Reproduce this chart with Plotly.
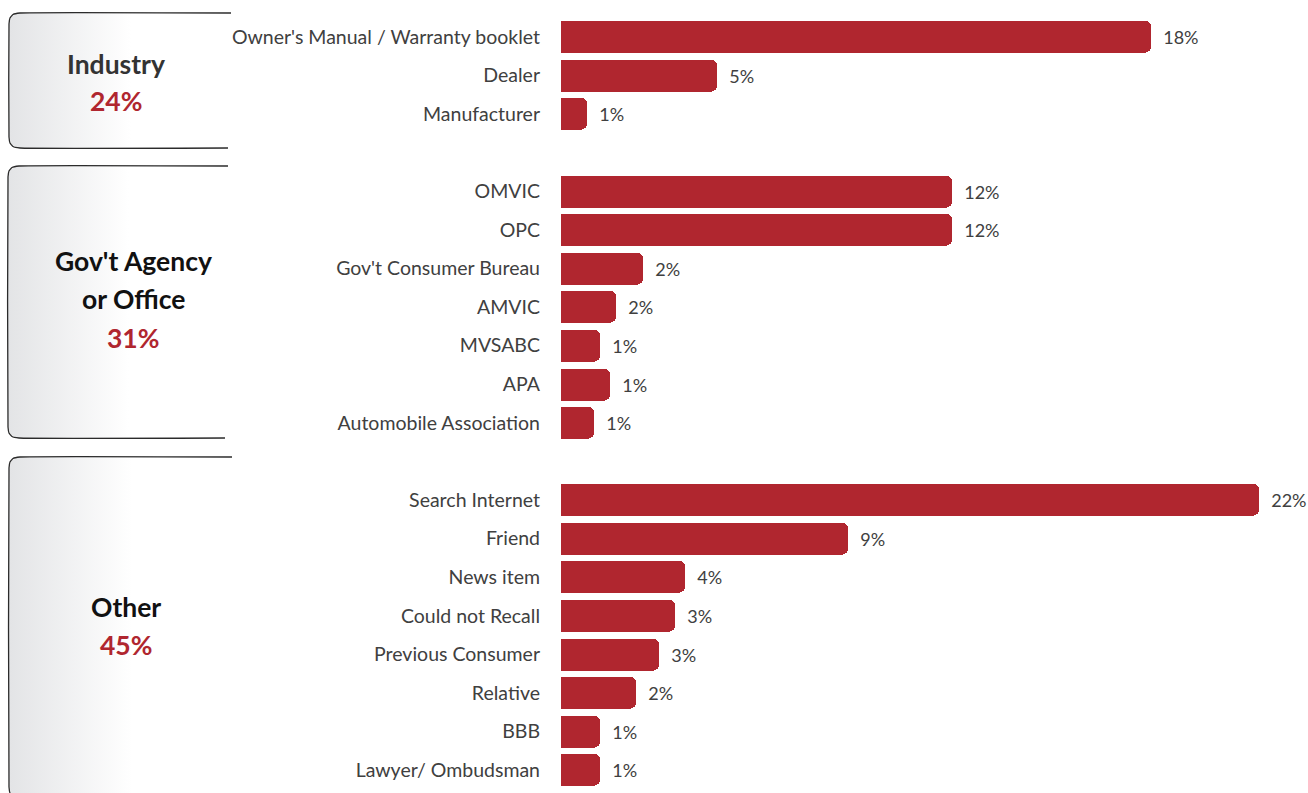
import plotly.graph_objects as go

# ---- data ----
group_names = ["Industry", "Gov't Agency<br>or Office", "Other"]
group_totals = ["24%", "31%", "45%"]
group_counts = [3, 7, 8]

categories = [
    "Owner's Manual / Warranty booklet", "Dealer", "Manufacturer",
    "OMVIC", "OPC", "Gov't Consumer Bureau", "AMVIC", "MVSABC", "APA", "Automobile Association",
    "Search Internet", "Friend", "News item", "Could not Recall", "Previous Consumer",
    "Relative", "BBB", "Lawyer/ Ombudsman",
]
values = [18.1, 4.8, 0.8,
          12.0, 12.0, 2.5, 1.7, 1.2, 1.5, 1.0,
          21.4, 8.8, 3.8, 3.5, 3.0, 2.3, 1.2, 1.2]
value_labels = ["18%", "5%", "1%",
                "12%", "12%", "2%", "2%", "1%", "1%", "1%",
                "22%", "9%", "4%", "3%", "3%", "2%", "1%", "1%"]

# ---- layout constants (pixels) ----
W, H = 1308, 793
PLOT_L = 561
Y_TOP, Y_BOT = 17.7, 789.3
PX_PER_PCT = 32.6
BAR_COLOR = "#b0262f"
RED = "#b0262f"
FONT = "Lato"

# slot positions: one blank slot between groups
ypos = []
slot = 0
for gi, n in enumerate(group_counts):
    for _ in range(n):
        ypos.append(slot)
        slot += 1
    slot += 1
last_slot = ypos[-1]

fig = go.Figure()

# ---- group boxes (decorative, on pixel axes x2/y2) ----
boxes = [(9, 13, 148, 231), (8, 166, 438, 228), (9, 457, 798, 232)]
label_pos = [(116, [(64, "Industry", "#333333")], 101),
             (133, [(261, "Gov't Agency", "#111111"), (299, "or Office", "#111111")], 338),
             (126, [(607, "Other", "#111111")], 645)]
r = 11
for (xl, yt, yb, xr) in boxes:
    fx = [xl + r, xr, xr, xl + r, xl + 3, xl, xl, xl + 3, xl + r]
    fy = [yt, yt, yb, yb, yb - 3, yb - r, yt + r, yt + 3, yt]
    fig.add_trace(go.Scatter(
        x=fx, y=fy, xaxis="x2", yaxis="y2", mode="lines", fill="toself",
        line=dict(width=0, color="rgba(0,0,0,0)"),
        fillgradient=dict(type="horizontal",
                          colorscale=[[0, "#e3e4e6"], [0.55, "#ffffff"], [1, "#ffffff"]]),
        hoverinfo="skip", showlegend=False))
    bx = [xr, xl + r, xl + 4, xl + 1, xl, xl, xl + 1, xl + 4, xl + r, xr - 3]
    by = [yt, yt, yt + 1.5, yt + 5, yt + r, yb - r, yb - 5, yb - 1.5, yb, yb]
    fig.add_trace(go.Scatter(
        x=bx, y=by, xaxis="x2", yaxis="y2", mode="lines",
        line=dict(width=1.3, color="#2b2b2b", shape="spline", smoothing=0.3),
        hoverinfo="skip", showlegend=False))

# ---- bars ----
fig.add_trace(go.Bar(
    x=values, y=ypos, orientation="h",
    marker=dict(color=BAR_COLOR, cornerradius=6, line=dict(width=0)),
    width=0.83,
    text=value_labels, texttemplate="\u00a0\u00a0%{text}", textposition="outside",
    textfont=dict(family=FONT, size=18, color="#404040"),
    cliponaxis=False, showlegend=False, hoverinfo="skip",
))

annotations = []
for (cx, lines, ty), tot in zip(label_pos, group_totals):
    for (yy, txt, col) in lines:
        annotations.append(dict(x=cx, y=yy, xref="x2", yref="y2", text=f"<b>{txt}</b>",
                                showarrow=False, font=dict(family=FONT, size=26.5, color=col)))
    annotations.append(dict(x=cx, y=ty, xref="x2", yref="y2", text=f"<b>{tot}</b>",
                            showarrow=False, font=dict(family=FONT, size=26.5, color=RED)))

plot_w = W - PLOT_L
fig.update_layout(
    width=W, height=H,
    margin=dict(l=0, r=0, t=0, b=0),
    paper_bgcolor="white", plot_bgcolor="rgba(0,0,0,0)",
    bargap=0,
    xaxis=dict(domain=[PLOT_L / W, 1], range=[0, plot_w / PX_PER_PCT],
               showgrid=False, zeroline=False, showticklabels=False, showline=False),
    yaxis=dict(domain=[(H - Y_BOT) / H, (H - Y_TOP) / H], range=[last_slot + 0.5, -0.5],
               tickmode="array", tickvals=ypos, ticktext=categories,
               ticklabelstandoff=20, ticks="", showgrid=False, zeroline=False, showline=False,
               tickfont=dict(family=FONT, size=19.5, color="#404040"), anchor="x"),
    xaxis2=dict(domain=[0, PLOT_L / W], range=[0, PLOT_L], visible=False, anchor="y2"),
    yaxis2=dict(domain=[0, 1], range=[H, 0], visible=False, anchor="x2"),
    annotations=annotations,
)

fig.write_html("out.html", config={"displayModeBar": False},
               post_script="document.body.style.margin='0';document.body.style.overflow='hidden';")
